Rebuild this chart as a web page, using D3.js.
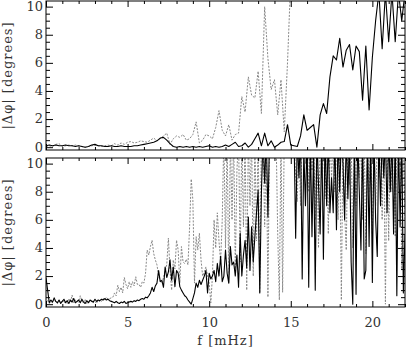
<!DOCTYPE html>
<html>
<head>
<meta charset="utf-8">
<script src="https://cdn.jsdelivr.net/npm/d3@7"></script>
<style>
	body { margin: 0; background: #fff; }
	svg { display: block; }
	.tick text, .label { font-family: 'DejaVu Serif', serif; font-size: 13px; fill: #333; }
	.tick line { stroke: #000; stroke-width: 1; }
	.frame { fill: none; stroke: #000; stroke-width: 1; }
	.series-a { fill: none; stroke: #000; stroke-width: 1.1; stroke-linejoin: round; }
	.series-b { fill: none; stroke: #888; stroke-width: 1; stroke-dasharray: 2,1.4; }
</style>
</head>
<body>
<div id="chart"></div>
<script>
// frequency ticks (mHz) and phase ticks (degrees)
const xTicks = [0, 5, 10, 15, 20];
const yTicks = [0, 2, 4, 6, 8, 10];

// upper panel, sampled every 0.2 mHz
const topStep = 0.2;
const topSolid = [
	0.1, 0.15, 0.1, 0.15, 0.1, 0.1, 0.15, 0.1, 0.1, 0.05,
	0.1, 0.05, 0.0, 0.05, 0.15, 0.2, 0.1, 0.1, 0.05, 0.05,
	0.1, 0.05, 0.05, 0.1, 0.05, 0.05, 0.05, 0.1, 0.1, 0.15,
	0.2, 0.25, 0.3, 0.35, 0.45, 0.65, 0.7, 0.5, 0.25, 0.05,
	0.0, 0.05, 0.0, 0.05, 0.0, 0.05, 0.0, 0.05, 0.0, 0.05,
	0.1, 0.0, 0.05, 0.0, 0.05, 0.15, 0.05, 0.2, 0.35, 0.05,
	0.1, 0.3, 0.0, 0.2, 0.6, 1.0, 0.1, 1.0, 0.1, 0.45,
	0.0, 0.15, 0.35, 0.4, 1.6, 0.15, 0.1, 0.05, 0.8, 2.3,
	1.2, 1.4, 1.6, 0.0, 2.3, 3.1, 2.4, 5.0, 6.5, 6.2,
	7.75, 5.7, 6.9, 7.3, 5.5, 7.2, 6.8, 3.35, 7.2, 2.65,
	6.4, 9.0, 11.0, 7.0, 11.0, 7.5, 11.0, 7.5, 11.0, 9.0,
	11.0
];
const topDashed = [
	0.05, 0.1, 0.05, 0.2, 0.25, 0.05, 0.1, 0.15, 0.1, 0.15,
	0.1, 0.05, 0.0, 0.05, 0.1, 0.15, 0.1, 0.05, 0.1, 0.15,
	0.1, 0.25, 0.15, 0.3, 0.2, 0.35, 0.4, 0.3, 0.35, 0.45,
	0.4, 0.35, 0.5, 0.65, 0.45, 0.6, 0.8, 1.0, 0.2, 0.6,
	0.8, 0.7, 0.9, 0.5, 0.6, 0.9, 1.8, 0.3, 0.5, 0.9,
	0.8, 0.6, 1.4, 2.6, 1.2, 0.8, 1.6, 0.5, 0.9, 1.0,
	3.6, 2.5, 5.0, 3.7, 3.5, 5.4, 2.4, 10.0, 6.3, 4.1,
	4.8, 2.3, 4.8, 1.1, 6.0, 12.0
];

// lower panel, sampled every 0.1 mHz
const bottomStep = 0.1;
const bottomSolid = [
	1.9, 1.0, 0.1, 0.3, 0.15, 0.45, 0.2, 0.1, 0.3, 0.05,
	0.2, 0.35, 0.1, 0.25, 0.05, 0.3, 0.15, 0.4, 0.1, 0.2,
	0.3, 0.1, 0.35, 0.15, 0.05, 0.25, 0.1, 0.3, 0.2, 0.15,
	0.35, 0.2, 0.3, 0.25, 0.35, 0.3, 0.4, 0.3, 0.35, 0.25,
	0.2, 0.15, 0.1, 0.2, 0.1, 0.05, 0.15, 0.1, 0.2, 0.05,
	0.1, 0.15, 0.2, 0.15, 0.25, 0.2, 0.3, 0.25, 0.35, 0.4,
	0.35, 0.5, 0.45, 0.6, 0.8, 1.2, 0.9, 1.3, 1.5, 2.4,
	1.6, 1.7, 1.2, 2.65, 1.9, 2.3, 3.15, 1.7, 2.65, 1.25,
	2.4, 2.2, 1.25, 1.0, 0.8, 0.6, 0.5, 0.3, 0.15, 0.0,
	0.4, 0.8, 1.5, 1.2, 1.7, 1.4, 1.7, 2.0, 2.4, 0.8,
	2.2, 1.8, 2.0, 2.4, 1.6, 2.9, 2.0, 3.4, 1.6, 2.0,
	3.85, 2.2, 1.5, 4.1, 2.8, 3.0, 2.0, 3.5, 1.2, 5.05,
	2.0, 3.5, 4.55, 2.6, 6.2, 2.4, 5.5, 3.0, 4.8, 6.5,
	8.1, 0.8, 7.9, 12, 8.6, 12, 6.2, 12, 12, 12,
	12, 12, 12, 12, 12, 12, 12, 12, 12, 12,
	12, 12, 12, 4.7, 12, 9.0, 12, 1.8, 11, 7.0,
	12, 1.2, 12, 4.8, 11, 1.0, 12, 8.5, 5.0, 12,
	3.2, 12, 7.0, 12, 6.5, 9.0, 6.5, 12, 5.3, 12,
	8.0, 12, 10.0, 6.0, 12, 7.5, 12, 3.0, 0.0, 12,
	0.7, 12, 8.0, 3.85, 12, 1.8, 2.4, 12, 4.1, 12,
	1.55, 12, 6.0, 3.4, 12, 7.0, 12, 9.0, 12, 6.5,
	12, 8.0, 12, 5.0, 12, 0.6, 12, 5.5, 12, 0.8,
	5.0
];
const bottomDashed = [
	0.1, 0.3, 0.05, 0.2, 0.1, 0.35, 0.15, 0.05, 0.25, 0.1,
	0.3, 0.1, 0.2, 0.05, 0.4, 0.15, 0.65, 0.1, 0.3, 0.2,
	0.15, 0.6, 0.2, 0.1, 0.35, 0.05, 0.2, 0.15, 0.3, 0.1,
	0.2, 0.05, 0.3, 0.15, 0.2, 0.4, 0.3, 0.5, 0.35, 0.4,
	0.45, 0.5, 0.8, 0.6, 1.35, 0.9, 1.2, 0.8, 1.9, 1.4,
	1.1, 1.6, 1.2, 1.6, 1.3, 1.95, 1.4, 1.4, 1.2, 1.6,
	1.5, 2.2, 3.85, 3.5, 4.1, 4.55, 3.6, 3.15, 2.8, 2.0,
	1.7, 1.5, 1.9, 2.4, 2.8, 4.7, 2.4, 1.0, 3.15, 2.5,
	4.55, 3.85, 1.5, 4.1, 3.0, 2.9, 3.2, 2.8, 5.5, 8.9,
	7.4, 1.5, 4.8, 3.85, 5.05, 3.15, 2.0, 2.3, 2.65, 2.0,
	1.5, 0.1, 2.0, 6.0, 4.0, 6.5, 4.5, 3.0, 6.0, 12,
	4.0, 12, 1.5, 12, 6.0, 12, 2.5, 9.5, 12, 3.0,
	12, 5.5, 12, 1.0, 12, 7.0, 12, 2.0, 12, 4.5,
	12, 0.8, 12, 12, 5.5, 12, 0.5, 12, 12, 12,
	12, 12, 5.0, 0.3, 12, 0.85, 12, 12, 12, 12,
	12, 12, 12, 9.0, 7.3, 12, 7.0, 12, 12, 10.0,
	12, 8.0, 12, 9.5, 12, 6.0, 12, 4.0, 12, 9.0,
	12, 7.5, 12, 5.0, 12, 9.0, 12, 8.0, 12, 6.0,
	12, 0.3, 12, 6.5, 3.85, 12, 8.5, 12, 4.0, 12,
	7.0, 12, 9.0, 12, 6.0, 12, 3.6, 12, 8.0, 12,
	5.0, 12, 7.0, 12, 9.0, 12, 6.0, 12, 0.0, 12,
	4.5, 12, 8.0, 12, 4.8, 12, 9.0, 12, 2.5, 12,
	6.0
];

const width = 406;
const height = 349;
const plotLeft = 46;
const plotRight = 405;

const panels = [
	{ top: 1, bottom: 150, step: topStep, solid: topSolid, dashed: topDashed, labels: false },
	{ top: 158, bottom: 307, step: bottomStep, solid: bottomSolid, dashed: bottomDashed, labels: true }
];

const svg = d3.select('#chart').append('svg')
	.attr('width', width)
	.attr('height', height);

const x = d3.scaleLinear().domain([0, 22]).range([plotLeft, plotRight]);

const minorX = d3.range(0, 23).filter(v => v % 5 !== 0);
const minorY = d3.range(0, 10.5, 0.5).filter(v => v % 2 !== 0);

panels.forEach((p, k) => drawPanel(p, k));

function drawPanel(p, k) {
	const y = d3.scaleLinear().domain([-0.2, 10.4]).range([p.bottom, p.top]);
	const g = svg.append('g');

	g.append('clipPath')
		.attr('id', 'clip' + k)
		.append('rect')
		.attr('x', plotLeft)
		.attr('y', p.top)
		.attr('width', plotRight - plotLeft)
		.attr('height', p.bottom - p.top);

	const line = step => d3.line()
		.x((d, i) => x(i * step))
		.y(d => y(d));

	const plot = g.append('g').attr('clip-path', `url(#clip${k})`);
	plot.append('path')
		.attr('class', 'series-b')
		.attr('d', line(p.step)(p.dashed));
	plot.append('path')
		.attr('class', 'series-a')
		.attr('d', line(p.step)(p.solid));

	// ticks on all four sides, pointing inward (IDL style)
	const axis = (gen, tx, ty) => g.append('g')
		.attr('transform', `translate(${tx},${ty})`)
		.call(gen)
		.call(s => s.select('.domain').remove());

	axis(d3.axisBottom(x).tickValues(xTicks).tickSizeInner(-6).tickSizeOuter(0).tickPadding(11)
		.tickFormat(p.labels ? d3.format('d') : ''), 0, p.bottom);
	axis(d3.axisBottom(x).tickValues(minorX).tickSizeInner(-3).tickSizeOuter(0).tickFormat(''), 0, p.bottom);
	axis(d3.axisTop(x).tickValues(xTicks).tickSizeInner(-6).tickSizeOuter(0).tickFormat(''), 0, p.top);
	axis(d3.axisTop(x).tickValues(minorX).tickSizeInner(-3).tickSizeOuter(0).tickFormat(''), 0, p.top);

	axis(d3.axisLeft(y).tickValues(yTicks).tickSizeInner(-7).tickSizeOuter(0).tickPadding(3), plotLeft, 0)
		.selectAll('text').attr('dy', '0.3em');
	axis(d3.axisLeft(y).tickValues(minorY).tickSizeInner(-4).tickSizeOuter(0).tickFormat(''), plotLeft, 0);
	axis(d3.axisRight(y).tickValues(yTicks).tickSizeInner(-7).tickSizeOuter(0).tickFormat(''), plotRight, 0);
	axis(d3.axisRight(y).tickValues(minorY).tickSizeInner(-4).tickSizeOuter(0).tickFormat(''), plotRight, 0);

	g.append('rect')
		.attr('class', 'frame')
		.attr('x', plotLeft)
		.attr('y', p.top)
		.attr('width', plotRight - plotLeft)
		.attr('height', p.bottom - p.top);

	g.append('text')
		.attr('class', 'label')
		.attr('transform', `translate(12,${(p.top + p.bottom) / 2}) rotate(-90)`)
		.attr('text-anchor', 'middle')
		.attr('letter-spacing', 1)
		.text('|Δφ| [degrees]');
}

svg.append('text')
	.attr('class', 'label')
	.attr('x', (plotLeft + plotRight) / 2)
	.attr('y', 345)
	.attr('text-anchor', 'middle')
	.attr('letter-spacing', 1)
	.text('f [mHz]');
</script>
</body>
</html>
